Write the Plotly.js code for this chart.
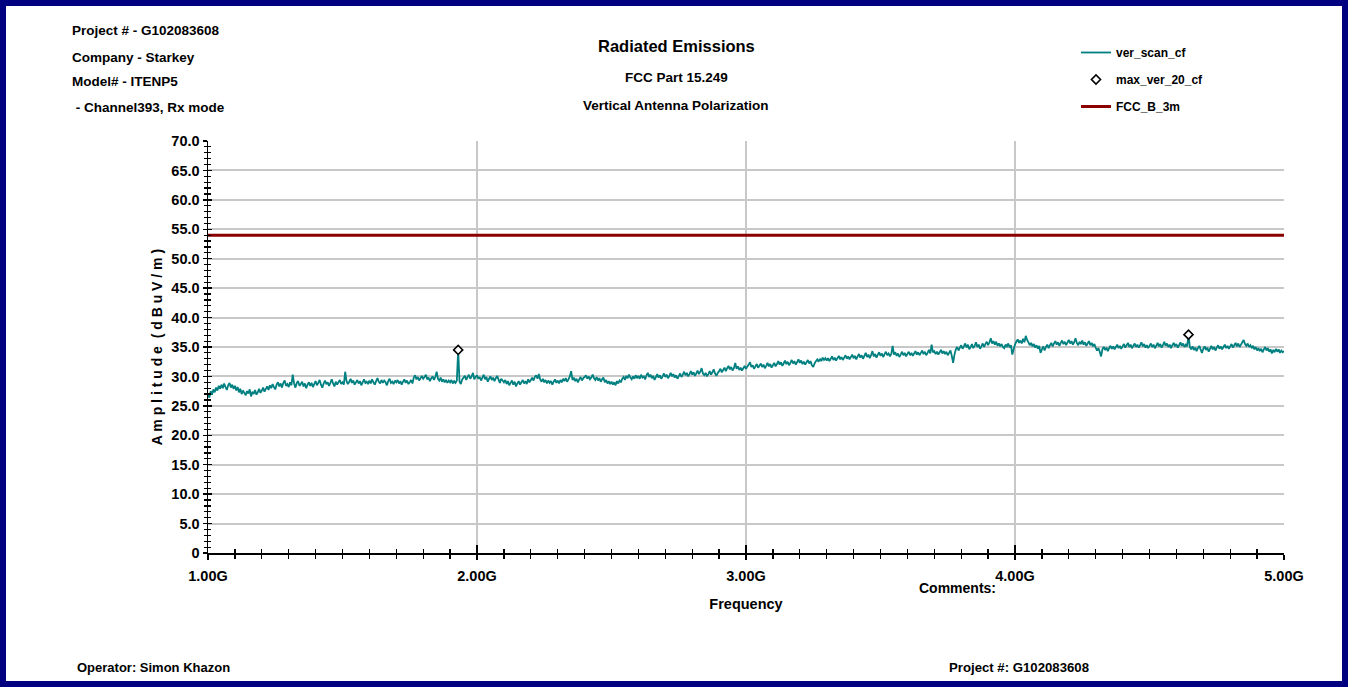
<!DOCTYPE html>
<html>
<head>
<meta charset="utf-8">
<script src="https://cdn.plot.ly/plotly-3.0.1.min.js"></script>
<style>
  html, body { margin: 0; padding: 0; background: #ffffff; }
  #chart { position: absolute; left: 0; top: 0; width: 1354px; height: 687px; }
  #frame { position: absolute; left: 0; top: 0; width: 1348px; height: 687px; box-sizing: border-box;
           border: 6px solid #000080; pointer-events: none; }
</style>
</head>
<body>
<div id="chart"></div>
<div id="frame"></div>
<script>
// ---------------- DATA ----------------
// Sweep grid of the scan (GHz)
const freqStart = 1.0;
const freqStep = 0.005;

// ver_scan_cf amplitude readings (dBuV/m), one row per 0.1 GHz
const scanValues = [
  27.0,26.4,27.5,26.9,27.8,27.3,28.1,27.6,28.4,27.9,28.6,28.0,28.8,28.2,27.7,28.5,28.9,28.1,28.6,27.9,
  28.4,27.6,28.2,27.3,27.9,27.0,27.6,27.2,26.8,27.5,27.1,27.8,26.6,27.4,27.0,27.7,26.9,27.3,27.9,27.2,
  27.6,28.1,27.4,27.9,28.3,27.7,28.5,28.0,28.7,28.2,27.8,28.6,29.0,28.3,28.8,28.1,28.9,29.3,28.4,28.7,
  28.2,29.0,28.5,30.3,28.8,28.1,28.9,29.2,28.4,28.7,29.1,28.3,28.8,28.0,28.6,29.0,28.4,28.9,28.2,28.7,
  29.2,28.5,28.9,29.4,28.6,28.1,28.8,29.3,28.7,29.0,28.4,28.9,29.5,28.8,28.3,29.1,28.6,29.0,29.4,28.7,
  29.0,28.6,30.8,29.2,28.7,29.1,29.6,28.9,29.3,28.6,29.0,29.4,28.8,29.2,28.5,29.0,29.5,28.9,29.1,28.7,
  29.3,28.8,29.5,29.0,28.6,29.2,29.7,29.1,28.8,29.4,28.9,29.3,29.0,28.5,29.2,29.6,28.9,29.1,28.7,29.3,
  29.0,29.4,28.8,29.2,28.6,29.1,29.5,28.9,29.3,28.7,29.0,29.4,28.8,29.8,30.2,29.5,29.9,29.3,29.7,30.1,
  29.6,29.9,30.3,29.5,29.8,29.2,29.7,30.0,29.4,29.9,30.8,29.6,29.3,29.8,29.1,29.5,29.0,29.4,28.9,29.3,
  29.0,29.4,28.8,29.2,28.9,29.3,34.5,29.1,28.7,29.5,29.8,30.1,29.4,29.9,30.3,29.6,30.0,30.6,29.5,29.9,
  30.2,29.6,29.9,29.3,29.8,30.3,29.5,29.9,29.1,29.6,30.0,29.4,29.8,29.2,29.7,30.1,29.5,28.9,29.6,29.3,
  29.0,29.4,28.7,29.2,28.5,28.9,29.3,28.6,29.1,28.3,28.8,29.2,28.6,29.0,29.4,28.8,29.2,28.7,29.5,29.0,
  29.4,29.8,29.3,29.9,30.2,29.6,30.4,29.5,29.1,29.6,29.0,29.4,28.8,29.3,28.9,29.2,28.6,29.1,29.5,28.9,
  29.3,28.8,29.4,29.0,29.6,29.2,29.7,29.1,29.5,30.0,30.9,29.4,29.8,29.2,29.6,29.0,29.5,29.9,29.3,29.7,
  29.9,30.2,29.6,30.0,29.5,29.8,30.3,29.7,29.4,29.9,29.3,29.7,29.1,29.5,29.8,29.0,29.4,28.8,29.2,28.7,
  29.1,28.6,29.0,28.5,29.2,28.8,29.3,29.0,29.6,29.9,29.4,30.1,29.7,30.3,29.8,29.5,30.0,29.6,30.2,29.7,
  30.1,29.6,30.3,29.8,30.0,29.5,30.2,30.6,29.9,30.3,29.7,30.1,29.4,29.9,30.4,29.8,30.2,29.6,30.0,30.5,
  29.9,30.3,29.7,30.1,30.6,30.0,30.4,29.8,30.2,29.6,30.0,30.5,29.9,30.3,30.8,30.2,30.6,30.0,30.4,30.9,
  30.3,30.7,30.1,30.5,31.0,30.4,30.8,31.4,30.5,30.2,30.6,30.0,30.4,30.9,30.3,30.7,31.2,30.5,30.1,30.6,
  30.9,31.3,30.7,31.1,31.5,30.9,31.4,31.8,31.2,31.6,31.0,31.4,32.3,31.3,31.7,31.1,31.5,31.0,31.4,31.8,
  31.3,31.7,32.0,32.4,31.6,31.9,31.3,31.7,32.1,31.5,31.8,32.2,31.6,32.0,31.4,31.8,32.3,31.7,32.1,31.5,
  31.9,32.3,31.7,32.1,32.6,32.0,32.4,31.8,32.2,32.7,32.1,32.5,31.9,32.3,32.8,32.2,32.6,32.0,32.4,32.9,
  32.3,32.7,32.1,32.5,32.0,32.4,32.8,32.2,32.6,31.9,31.6,32.2,32.6,32.9,32.5,33.0,32.6,33.2,32.8,33.1,
  32.7,33.1,32.6,33.0,33.4,32.8,33.2,32.7,33.1,33.5,32.9,33.3,32.8,33.2,33.6,33.0,33.4,32.9,33.3,33.7,
  33.1,33.5,32.9,33.4,33.8,33.2,33.6,33.0,33.5,34.0,33.3,33.7,33.1,33.6,34.3,33.4,33.8,33.2,33.7,34.1,
  33.5,33.9,33.3,33.8,34.2,33.6,33.9,33.4,33.8,35.2,33.7,34.1,33.5,33.9,33.3,33.7,34.2,33.6,34.0,33.4,
  33.8,34.2,33.6,34.0,33.5,33.9,34.3,33.7,34.1,33.6,34.0,34.4,33.8,34.2,33.6,34.0,34.5,33.9,35.4,34.1,
  34.3,33.8,34.2,33.7,34.1,34.5,33.9,34.3,33.8,34.2,33.6,34.0,34.4,33.5,32.3,33.7,34.6,35.0,34.4,34.9,
  35.3,34.7,35.1,35.6,34.9,35.4,34.6,35.0,35.5,34.8,35.2,35.8,35.0,35.4,34.7,35.1,35.6,35.0,35.5,35.9,
  35.3,35.8,36.5,35.6,36.0,35.4,35.9,35.2,35.6,35.1,35.5,35.0,34.8,35.4,35.1,35.6,34.9,35.3,33.7,34.6,
  35.4,35.9,36.3,35.7,36.1,35.6,36.4,35.8,36.9,36.2,35.8,35.3,35.7,35.1,35.5,34.9,35.3,34.7,35.2,34.0,
  34.6,35.1,34.4,35.0,35.4,34.8,35.3,35.7,35.1,35.6,36.0,35.4,35.8,35.2,35.7,36.1,35.5,35.9,35.3,35.8,
  36.2,35.6,36.0,35.4,35.8,36.5,35.7,35.3,35.9,35.5,36.1,35.4,35.8,35.2,35.6,36.0,35.3,35.7,35.1,35.5,
  34.9,34.4,34.8,34.2,33.4,34.6,35.0,34.5,34.9,34.3,34.8,35.2,34.7,35.1,34.6,35.0,35.4,34.8,35.2,34.7,
  35.1,35.5,34.9,35.3,35.7,35.0,35.4,34.8,35.2,35.6,35.0,35.4,34.9,35.3,35.8,35.1,35.5,34.9,35.3,34.8,
  35.2,35.6,35.0,35.4,34.8,35.2,35.7,35.1,35.5,34.9,35.3,35.9,35.2,35.6,35.0,35.4,34.8,35.3,35.7,35.1,
  35.5,34.9,35.3,35.8,35.2,35.6,35.0,35.4,35.1,37.1,35.0,34.6,35.1,34.5,34.9,34.3,34.8,35.2,34.6,34.0,
  34.7,35.1,34.5,34.9,34.2,34.7,35.2,34.6,35.0,34.4,34.9,35.3,34.7,35.1,34.6,35.0,35.4,34.8,35.2,34.7,
  35.1,35.5,34.9,35.3,35.7,35.1,35.6,35.0,35.4,35.8,36.2,35.5,35.2,35.6,35.0,35.3,34.8,35.2,34.6,35.0,
  34.4,34.8,34.3,34.7,34.1,34.6,35.0,34.4,34.8,34.2,34.6,33.9,34.5,34.1,34.7,34.2,34.6,34.0,34.4,34.1,
  34.3
];

// max_ver_20_cf peak markers
const peakFreqs = [1.93, 4.645];
const peakValues = [34.5, 37.1];

// FCC_B_3m limit line
const limitFreqs = [1.0, 5.0];
const limitValues = [54.0, 54.0];

// Tick labels
const xTickVals = [1, 2, 3, 4, 5];
const xTickText = ['1.00G', '2.00G', '3.00G', '4.00G', '5.00G'];
const yTickVals = [0, 5, 10, 15, 20, 25, 30, 35, 40, 45, 50, 55, 60, 65, 70];
const yTickText = ['0', '5.0', '10.0', '15.0', '20.0', '25.0', '30.0', '35.0', '40.0', '45.0', '50.0', '55.0', '60.0', '65.0', '70.0'];

// Text blocks
const headerLines = ['Project # - G102083608', 'Company - Starkey', 'Model# - ITENP5', ' - Channel393, Rx mode'];
const titleLines = ['Radiated Emissions', 'FCC Part 15.249', 'Vertical Antenna Polarization'];
const operatorText = 'Operator: Simon Khazon';
const footerProject = 'Project #: G102083608';
const commentsText = 'Comments:';

// ---------------- LAYOUT ----------------
const scanFreqs = scanValues.map((_, i) => +(freqStart + i * freqStep).toFixed(3));

const FONT = "'Liberation Sans', Arial, sans-serif";
const L = 208, R = 1284, T = 141, B = 553, FW = 1354, FH = 687;
const PW = R - L, PH = B - T;
const px = x => (x - L) / PW;
const py = y => (B - y) / PH;

const teal = '#008080';
const darkRed = '#8b0000';
const gridCol = '#c8c8c8';

const traces = [
  { type: 'scatter', mode: 'lines', name: 'ver_scan_cf', x: scanFreqs, y: scanValues,
    line: { color: teal, width: 1.8, simplify: false }, legendgroup: 'a', xaxis: 'x', yaxis: 'y' },
  { type: 'scatter', mode: 'markers', name: 'max_ver_20_cf', x: peakFreqs, y: peakValues,
    marker: { symbol: 'diamond', size: 7, color: '#ffffff', line: { color: '#000000', width: 1.6 } },
    legendgroup: 'b', xaxis: 'x', yaxis: 'y' },
  { type: 'scatter', mode: 'lines', name: 'FCC_B_3m', x: limitFreqs, y: limitValues,
    line: { color: darkRed, width: 3 }, legendgroup: 'c', xaxis: 'x2', yaxis: 'y2' }
];

const bold = (size) => ({ family: FONT, size: size, color: '#000000', weight: 'bold' });

const annotations = [];
const headerY = [31, 57, 81, 108];
headerLines.forEach((t, i) => annotations.push({
  text: t, xref: 'paper', yref: 'paper', x: px(70), y: py(headerY[i]),
  xanchor: 'left', yanchor: 'middle', showarrow: false, font: bold(13.5)
}));
const titleY = [46, 77, 105];
const titleSize = [16.5, 13.5, 13.5];
titleLines.forEach((t, i) => annotations.push({
  text: t, xref: 'paper', yref: 'paper', x: px(676), y: py(titleY[i]),
  xanchor: 'center', yanchor: 'middle', showarrow: false, font: bold(titleSize[i])
}));
annotations.push({ text: commentsText, xref: 'paper', yref: 'paper', x: px(998), y: py(588),
  xanchor: 'right', yanchor: 'middle', showarrow: false, font: bold(14) });
annotations.push({ text: operatorText, xref: 'paper', yref: 'paper', x: px(75), y: py(667),
  xanchor: 'left', yanchor: 'middle', showarrow: false, font: bold(13) });
annotations.push({ text: footerProject, xref: 'paper', yref: 'paper', x: px(947), y: py(667),
  xanchor: 'left', yanchor: 'middle', showarrow: false, font: bold(13.2) });

const layout = {
  width: FW, height: FH,
  paper_bgcolor: '#ffffff', plot_bgcolor: '#ffffff',
  margin: { l: L, r: FW - R, t: T, b: FH - B, pad: 0 },
  showlegend: true,
  legend: {
    x: px(1076), y: py(38), xanchor: 'left', yanchor: 'top',
    bgcolor: 'rgba(0,0,0,0)', borderwidth: 0,
    font: bold(12), traceorder: 'grouped', tracegroupgap: 8, itemwidth: 30
  },
  xaxis: {
    range: [1, 5], tickmode: 'array', tickvals: xTickVals, ticktext: xTickText,
    ticks: 'outside', ticklen: 5, tickwidth: 1.5, tickcolor: '#000000',
    showline: true, linecolor: '#000000', linewidth: 2,
    showgrid: true, gridcolor: gridCol, gridwidth: 2, zeroline: false,
    minor: { tickmode: 'linear', tick0: 1, dtick: 0.1, ticks: 'outside', ticklen: 4, tickwidth: 1.3, tickcolor: '#000000', showgrid: false },
    tickfont: bold(14.5), ticklabelstandoff: 4, automargin: false,
    title: { text: 'Frequency', font: bold(14.5), standoff: 15 }
  },
  xaxis2: {
    overlaying: 'x', anchor: 'y2', side: 'bottom', range: [1, 5],
    tickmode: 'array', tickvals: xTickVals, ticks: 'inside', ticklen: 8, tickwidth: 1.5, tickcolor: '#000000',
    showticklabels: false, showgrid: false, showline: false, zeroline: false,
    minor: { tickmode: 'linear', tick0: 1, dtick: 0.1, ticks: 'inside', ticklen: 4, tickwidth: 1.3, tickcolor: '#000000', showgrid: false },
    automargin: false
  },
  yaxis: {
    range: [0, 70], tickmode: 'array', tickvals: yTickVals, ticktext: yTickText,
    ticks: 'outside', ticklen: 4, tickwidth: 1.5, tickcolor: '#000000',
    showline: true, linecolor: '#000000', linewidth: 1.5,
    showgrid: true, gridcolor: gridCol, gridwidth: 2, zeroline: false,
    minor: { tickmode: 'linear', tick0: 0, dtick: 1, ticks: 'outside', ticklen: 3, tickwidth: 1.2, tickcolor: '#000000', showgrid: false },
    tickfont: bold(14.5), automargin: false,
    title: { text: 'A m p l i t u d e  ( d B u V / m )', font: bold(14), standoff: 5 }
  },
  yaxis2: {
    overlaying: 'y', anchor: 'x2', side: 'left', range: [0, 70],
    tickmode: 'array', tickvals: yTickVals, ticks: 'inside', ticklen: 4, tickwidth: 1.5, tickcolor: '#000000',
    showticklabels: false, showgrid: false, showline: false, zeroline: false,
    minor: { tickmode: 'linear', tick0: 0, dtick: 1, ticks: 'inside', ticklen: 3, tickwidth: 1.2, tickcolor: '#000000', showgrid: false },
    automargin: false
  },
  annotations: annotations
};

Plotly.newPlot('chart', traces, layout, { displayModeBar: false, staticPlot: true });
</script>
</body>
</html>
